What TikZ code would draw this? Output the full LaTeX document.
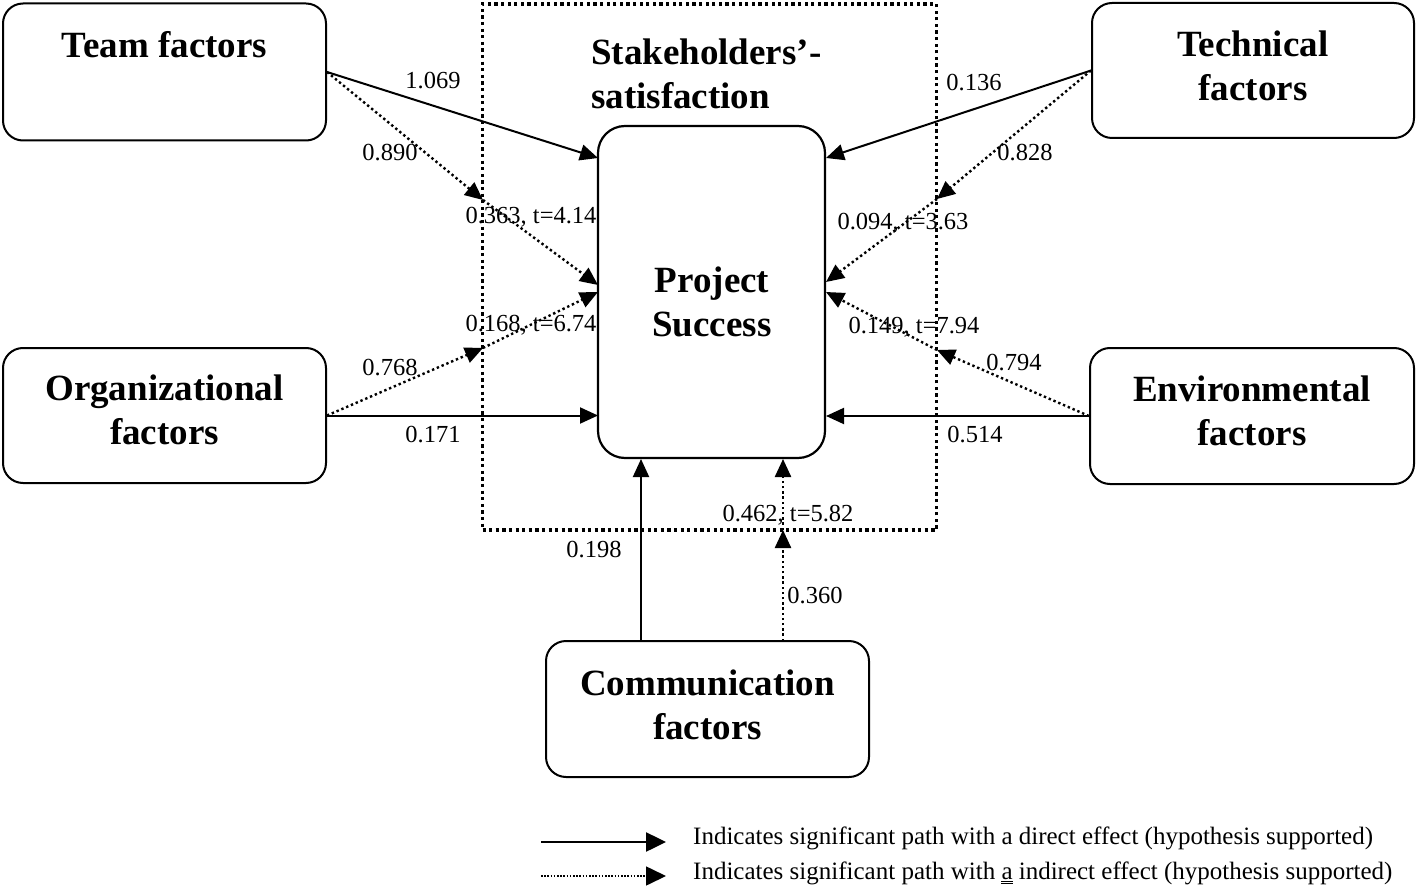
\documentclass[tikz,border=0pt]{standalone}
\usepackage{fontspec}
\setmainfont{Liberation Serif}
\usetikzlibrary{arrows.meta,calc}
\tikzset{
  fbox/.style={draw, line width=2pt, rounded corners=20pt, inner sep=0pt},
  psbox/.style={draw, line width=2.2pt, rounded corners=27pt, inner sep=0pt},
  medbox/.style={draw, line width=3.5pt, dash pattern=on 3.2pt off 3.4pt, inner sep=0pt},
  bigtxt/.style={font=\fontsize{37}{44.5}\selectfont\bfseries, align=center, inner sep=0pt},
  lbl/.style={font=\fontsize{24.5}{29}\selectfont, inner sep=0pt},
  lgtxt/.style={font=\fontsize{25}{29}\selectfont, inner sep=0pt},
  direct/.style={line width=2pt, -{Triangle[length=18pt,width=16pt]}},
  indirect/.style={line width=2.4pt, dash pattern=on 2.4pt off 2.8pt, -{Triangle[length=18pt,width=16pt]}},
}
\begin{document}
\begin{tikzpicture}[x=1pt,y=-1pt]
\useasboundingbox (0,0) rectangle (1418,890);
% mediator dotted box
\node[medbox, minimum width=454pt, minimum height=526pt] (med) at (709.5,267) {};
% boxes
\node[fbox, minimum width=323pt, minimum height=137pt] (team) at (164.5,72) {};
\node[fbox, minimum width=322pt, minimum height=135pt] (tech) at (1253,70.5) {};
\node[fbox, minimum width=323pt, minimum height=135pt] (org) at (164.5,415.5) {};
\node[fbox, minimum width=324pt, minimum height=136pt] (env) at (1252,416) {};
\node[fbox, minimum width=323pt, minimum height=136pt] (comm) at (707.5,709) {};
\node[psbox, minimum width=227pt, minimum height=332pt] (ps) at (711.5,292) {};
% texts
\node[bigtxt] (teamt) at (164.5,45) {Team factors};
\node[bigtxt] (techt) at (1253,66) {Technical\\factors};
\node[bigtxt] (orgt) at (164.5,410) {Organizational\\factors};
\node[bigtxt] (envt) at (1252,411) {Environmental\\factors};
\node[bigtxt] (commt) at (707.5,705) {Communication\\factors};
\node[bigtxt] (pst) at (712,302) {Project\\Success};
\node[bigtxt, align=left, anchor=west] (medt) at (591,74) {Stakeholders’-\\satisfaction};
% endpoints
\coordinate (psA) at (598,158);
\coordinate (psB) at (598,285);
\coordinate (psC) at (598,292);
\coordinate (psD) at (598,415.5);
\coordinate (psE) at (826,158);
\coordinate (psF) at (826,282);
\coordinate (psG) at (826,292);
\coordinate (psH) at (826,416);
\coordinate (psI) at (641,459);
\coordinate (psJ) at (783,459);
\coordinate (medA) at (483,200);
\coordinate (medB) at (483,348);
\coordinate (medC) at (937,199);
\coordinate (medD) at (937,350);
\coordinate (medE) at (783,530);
\coordinate (commA) at (641,641);
\coordinate (commB) at (783,641);
% connectors
\draw[direct] (team.east) -- (psA);
\draw[indirect] (team.east) -- (medA);
\draw[indirect] (medA) -- (psB);
\draw[direct] (org.east) -- (psD);
\draw[indirect] (org.east) -- (medB);
\draw[indirect] (medB) -- (psC);
\draw[direct] (tech.west) -- (psE);
\draw[indirect] (tech.west) -- (medC);
\draw[indirect] (medC) -- (psF);
\draw[direct] (env.west) -- (psH);
\draw[indirect] (env.west) -- (medD);
\draw[indirect] (medD) -- (psG);
\draw[direct] (commA) -- (psI);
\draw[indirect] (commB) -- (medE);
\draw[indirect] (medE) -- (psJ);
% labels
\node[lbl] (l1) at (433,81) {1.069};
\node[lbl] (l2) at (390,153) {0.890};
\node[lbl] (l3) at (531,217) {0.363, t=4.14};
\node[lbl] (l4) at (531,325) {0.168, t=6.74};
\node[lbl] (l5) at (390,368) {0.768};
\node[lbl] (l6) at (433,435) {0.171};
\node[lbl] (l7) at (974,83) {0.136};
\node[lbl] (l8) at (1025,153) {0.828};
\node[lbl] (l9) at (903,223) {0.094, t=3.63};
\node[lbl] (l10) at (914,327) {0.149, t=7.94};
\node[lbl] (l11) at (1014,363) {0.794};
\node[lbl] (l12) at (975,435) {0.514};
\node[lbl] (l13) at (788,515) {0.462, t=5.82};
\node[lbl] (l14) at (594,550) {0.198};
\node[lbl] (l15) at (815,596) {0.360};
% legend
\coordinate (lgA1) at (541,842);
\coordinate (lgA2) at (666,842);
\coordinate (lgB1) at (541,876);
\coordinate (lgB2) at (666,876);
\draw[line width=2.5pt, -{Triangle[length=20pt,width=19pt]}] (lgA1) -- (lgA2);
\draw[line width=1.6pt, dash pattern=on 1.6pt off 1.6pt, -{Triangle[length=20pt,width=19pt]}] (lgB1) -- (lgB2);
\node[lgtxt, anchor=west] (lg1) at (693,838) {Indicates significant path with a direct effect (hypothesis supported)};
\node[lgtxt, anchor=west] (lg2) at (693,873) {Indicates significant path with \underline{\underline{a}} indirect effect (hypothesis supported)};
\end{tikzpicture}
\end{document}
